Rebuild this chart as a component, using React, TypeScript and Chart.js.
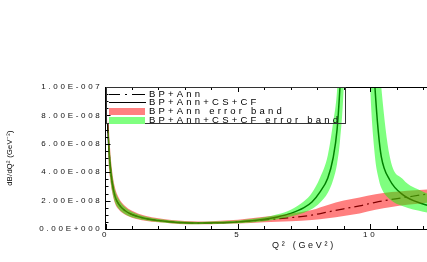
import { useEffect, useRef } from 'react';
import { Chart, registerables } from 'chart.js';

Chart.register(...registerables);

// Q^2 grid (GeV^2) and values in units of 1e-8 GeV^-2
const qGreen = [0.08, 0.12, 0.17, 0.25, 0.36, 0.5, 0.73, 1.0, 1.5, 2.0, 2.5, 3.0, 3.5, 4.0, 5.0, 6.0, 6.5, 7.0, 7.5, 7.8, 8.1, 8.4, 8.6, 8.75, 8.86, 9.0, 9.5, 10.0, 10.18, 10.3, 10.42, 10.74, 11.24, 12.0, 12.3];
const greenCentral = [7.4, 5.9, 4.6, 3.3, 2.3, 1.75, 1.3, 1.02, 0.74, 0.6, 0.5, 0.44, 0.42, 0.43, 0.5, 0.68, 0.85, 1.1, 1.5, 1.9, 2.6, 3.6, 5.0, 7.0, 10, 15, 60, 16, 10, 7, 5.1, 3.45, 2.4, 1.76, 1.62];
const greenUpper = [7.7, 6.9, 5.5, 3.95, 2.75, 2.1, 1.55, 1.22, 0.88, 0.71, 0.6, 0.53, 0.5, 0.52, 0.6, 0.82, 1.03, 1.36, 1.95, 2.55, 3.6, 5.2, 7.5, 9.8, 14, 22, 80, 30, 17, 13, 10, 5.1, 3.5, 2.63, 2.4];
const greenLower = [7.1, 4.8, 3.75, 2.7, 1.88, 1.43, 1.06, 0.83, 0.61, 0.49, 0.41, 0.36, 0.34, 0.35, 0.41, 0.55, 0.68, 0.88, 1.15, 1.4, 1.85, 2.55, 3.45, 4.6, 6.2, 10, 40, 10, 5.1, 3.7, 2.9, 2.1, 1.6, 1.22, 1.12];

const qRed = [0.08, 0.12, 0.17, 0.25, 0.36, 0.5, 0.73, 1.0, 1.5, 2.0, 2.5, 3.0, 3.5, 4.0, 5.0, 6.0, 7.0, 7.8, 8.4, 9.0, 9.6, 10.2, 10.8, 11.4, 12.0, 12.3];
const redCentral = [7.4, 5.9, 4.6, 3.3, 2.3, 1.75, 1.3, 1.02, 0.74, 0.6, 0.5, 0.44, 0.42, 0.43, 0.5, 0.64, 0.8, 0.98, 1.2, 1.42, 1.63, 1.88, 2.08, 2.25, 2.42, 2.48];
const redUpper = [7.8, 7.3, 5.75, 4.1, 2.9, 2.2, 1.63, 1.28, 0.93, 0.75, 0.63, 0.56, 0.53, 0.55, 0.65, 0.86, 1.1, 1.34, 1.69, 2.0, 2.22, 2.45, 2.6, 2.7, 2.77, 2.8];
const redLower = [7.0, 4.6, 3.6, 2.6, 1.8, 1.37, 1.02, 0.8, 0.58, 0.47, 0.39, 0.34, 0.33, 0.34, 0.38, 0.47, 0.55, 0.63, 0.75, 0.92, 1.1, 1.35, 1.55, 1.7, 1.82, 1.86];

const UNIT = 1e-8;
const xMin = 0;
const xMax = 15;
const xStep = 5;
const yMin = 0;
const yMax = 10;
const yStep = 2;
const xTitle = 'Q² (GeV²)';
const yTitle = 'dB/dQ² (GeV⁻²)';
const legendLabels = ['BP+Ann', 'BP+Ann+CS+CF', 'BP+Ann error band', 'BP+Ann+CS+CF error band'];

const FONT = '"Liberation Sans", Arial, sans-serif';

function sci(v: number): string {
  const x = v * UNIT;
  if (Math.abs(x) < 1e-30) return '0.00E+000';
  let e = Math.floor(Math.log10(x) + 1e-9);
  let m = x / Math.pow(10, e);
  if (m >= 9.995) { m /= 10; e += 1; }
  const s = e < 0 ? '-' : '+';
  return m.toFixed(2) + 'E' + s + String(Math.abs(e)).padStart(3, '0');
}

const pts = (xs: number[], ys: number[]) => xs.map((x, i) => ({ x, y: ys[i] }));

export default function App() {
  const ref = useRef<HTMLCanvasElement | null>(null);
  useEffect(() => {
    if (!ref.current) return;
    const spacing = {
      id: 'spacing',
      beforeDraw(chart: any) {
        chart.ctx.letterSpacing = '2.7px';
      },
    };
    const frame = {
      id: 'frame',
      afterDraw(chart: any) {
        const ctx = chart.ctx as CanvasRenderingContext2D;
        const { left, right, top, bottom } = chart.chartArea;
        const xs = chart.scales.x;
        const ys = chart.scales.y;
        ctx.save();
        (ctx as any).letterSpacing = '0px';
        ctx.strokeStyle = '#000';
        ctx.lineWidth = 1;
        ctx.setLineDash([]);
        ctx.beginPath();
        ctx.moveTo(left, Math.round(top) + 0.5);
        ctx.lineTo(right, Math.round(top) + 0.5);
        for (let q = xMin; q <= xMax; q += 1) {
          const px = Math.round(xs.getPixelForValue(q)) + 0.5;
          const len = q % 5 === 0 ? 5 : 3;
          ctx.moveTo(px, bottom);
          ctx.lineTo(px, bottom - len);
          ctx.moveTo(px, top);
          ctx.lineTo(px, top + len);
        }
        for (let v = yMin; v <= yMax + 1e-9; v += 0.5) {
          const py = Math.round(ys.getPixelForValue(v)) + 0.5;
          const len = Math.abs(v % 2) < 1e-9 ? 5 : 3;
          ctx.moveTo(left, py);
          ctx.lineTo(left + len, py);
        }
        ctx.stroke();

        // legend
        const bx = Math.round(left);
        const by = Math.round(top);
        const bw = 239;
        const bh = 36;
        ctx.lineWidth = 1;
        ctx.strokeStyle = '#333';
        ctx.strokeRect(bx + 0.5, by + 0.5, bw, bh);
        const rowY = (i: number) => Math.round(by + 6.5 + i * 8.8);
        const sx = bx + 3;
        const sw = 36;
        ctx.fillStyle = '#000';
        // dash-dot sample (row 0)
        ctx.fillRect(sx, rowY(0), 11, 1);
        ctx.fillRect(sx + 16, rowY(0), 2, 1);
        ctx.fillRect(sx + 23, rowY(0), 13, 1);
        // solid sample (row 1)
        ctx.fillRect(sx, rowY(1), sw + 1, 1);
        ctx.fillStyle = 'rgb(255,128,128)';
        ctx.fillRect(sx, rowY(2) - 3, sw, 7);
        ctx.fillStyle = 'rgb(128,255,128)';
        ctx.fillRect(sx, rowY(3) - 3, sw, 7);
        ctx.fillStyle = '#000';
        ctx.font = '9.5px ' + FONT;
        (ctx as any).letterSpacing = '3.2px';
        ctx.textBaseline = 'middle';
        ctx.textAlign = 'left';
        legendLabels.forEach((t, i) => ctx.fillText(t, sx + 40, rowY(i) + 0.5));

        // y title
        (ctx as any).letterSpacing = '0.3px';
        ctx.font = '7.5px ' + FONT;
        ctx.textAlign = 'center';
        ctx.translate(10, (top + bottom) / 2);
        ctx.rotate(-Math.PI / 2);
        ctx.fillText(yTitle, 0, 0);
        ctx.restore();
      },
    };

    const chart = new Chart(ref.current, {
      type: 'line',
      data: {
        datasets: [
          { label: 'gU', data: pts(qGreen, greenUpper), borderWidth: 0, borderColor: 'transparent', pointRadius: 0, fill: '+1', backgroundColor: 'rgba(0,255,0,0.5)', cubicInterpolationMode: 'monotone' },
          { label: 'gL', data: pts(qGreen, greenLower), borderWidth: 0, borderColor: 'transparent', pointRadius: 0, fill: false, cubicInterpolationMode: 'monotone' },
          { label: 'rU', data: pts(qRed, redUpper), borderWidth: 0, borderColor: 'transparent', pointRadius: 0, fill: '+1', backgroundColor: 'rgba(255,0,0,0.5)', cubicInterpolationMode: 'monotone' },
          { label: 'rL', data: pts(qRed, redLower), borderWidth: 0, borderColor: 'transparent', pointRadius: 0, fill: false, cubicInterpolationMode: 'monotone' },
          { label: 'BP+Ann+CS+CF', data: pts(qGreen, greenCentral), borderWidth: 1.5, borderColor: '#000', pointRadius: 0, fill: false, cubicInterpolationMode: 'monotone' },
          { label: 'BP+Ann', data: pts(qRed, redCentral), borderWidth: 1.2, borderColor: '#000', borderDash: [9, 4, 2, 4], pointRadius: 0, fill: false, cubicInterpolationMode: 'monotone' },
        ] as any,
      },
      options: {
        animation: false,
        responsive: false,
        events: [],
        layout: { padding: { left: 0, top: 87, right: 7.5, bottom: 0 } },
        plugins: { legend: { display: false }, tooltip: { enabled: false } },
        scales: {
          x: {
            type: 'linear',
            min: xMin,
            max: xMax,
            afterFit(s: any) { s.height = 33; },
            grid: { display: false, drawTicks: false },
            border: { display: true, color: '#000', width: 1 },
            ticks: { stepSize: xStep, padding: 1, color: '#111', maxRotation: 0, autoSkip: false, font: { family: FONT, size: 8 } },
            title: { display: true, text: xTitle, color: '#111', font: { family: FONT, size: 9 }, padding: { top: 0, bottom: 11 } },
          },
          y: {
            type: 'linear',
            min: yMin,
            max: yMax,
            afterFit(s: any) { s.width = 105.5; },
            grid: { display: false, drawTicks: false },
            border: { display: true, color: '#000', width: 1 },
            ticks: { stepSize: yStep, padding: 3, color: '#111', font: { family: FONT, size: 8 }, callback: (v: any) => sci(Number(v)) },
            title: { display: false },
          },
        },
      } as any,
      plugins: [spacing, frame],
    });
    return () => chart.destroy();
  }, []);

  return (
    <div style={{ position: 'absolute', left: 0, top: 0, width: 427, height: 262, overflow: 'hidden', background: '#fff' }}>
      <canvas ref={ref} width={510} height={262} style={{ display: 'block' }} />
    </div>
  );
}
